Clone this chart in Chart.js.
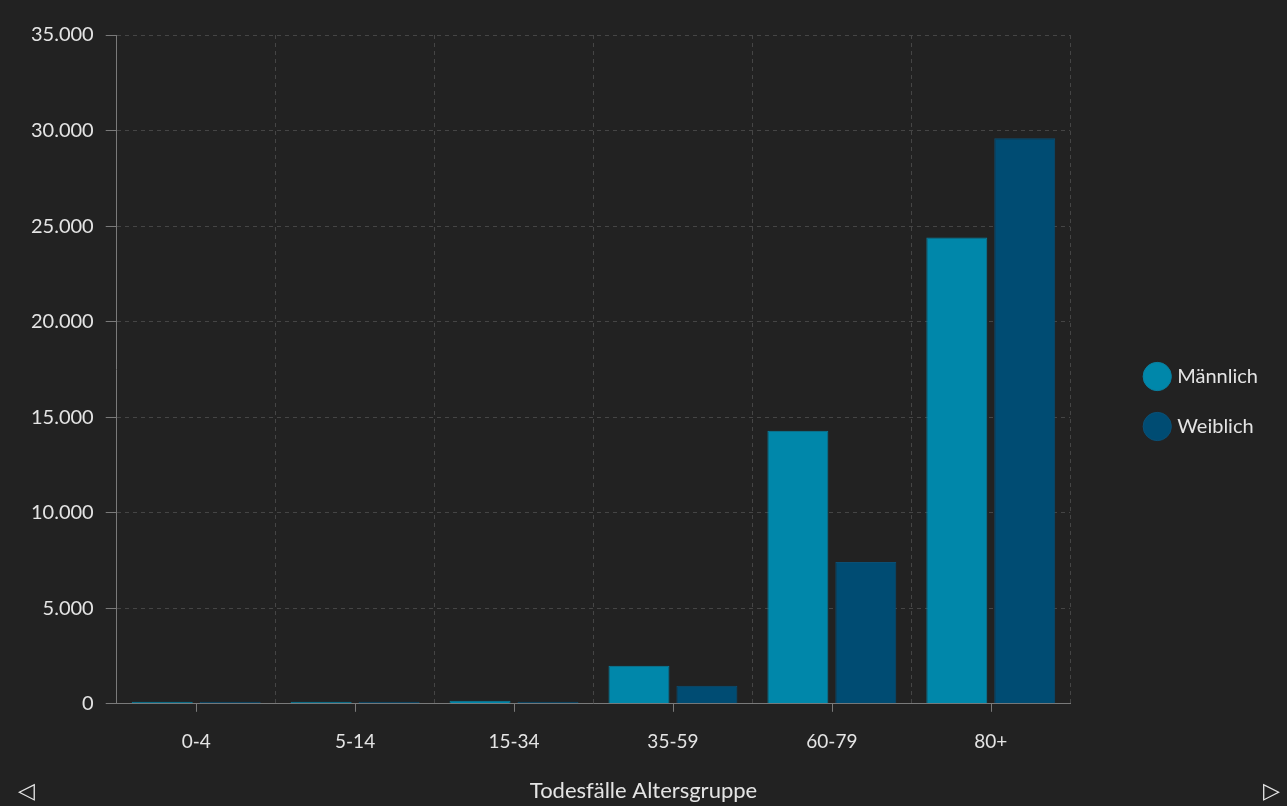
<!DOCTYPE html>
<html lang="de">
<head>
    <meta charset="UTF-8">
    <title>Todesfälle Altersgruppe</title>
    <script src="https://cdn.jsdelivr.net/npm/chart.js"></script>
    <style>
        body { margin: 0; background: #222222; font-family: Lato, sans-serif; }
        .wrap { position: relative; width: 1287px; height: 806px; background: #222222; }
        .arrow { position: absolute; top: 776px; color: #e6e6e6; font-size: 22px; line-height: 28px; }
        .arrow.left { left: 18px; }
        .arrow.right { left: 1263px; }
    </style>
</head>
<body>
<div class="wrap">
    <canvas id="chart" width="1287" height="806"></canvas>
    <span class="arrow left">◁</span>
    <span class="arrow right">▷</span>
</div>
<script>
const altersgruppen = ['0-4', '5-14', '15-34', '35-59', '60-79', '80+'];
const maennlich = [15, 20, 160, 1990, 14290, 24400];
const weiblich = [10, 15, 70, 940, 7420, 29600];
const yTicks = [0, 5000, 10000, 15000, 20000, 25000, 30000, 35000];

const textColor = '#e4e4e4';
const gridColor = '#454545';
const axisColor = '#7a7a7a';

function deFormat(v) {
    return String(v).replace(/\B(?=(\d{3})+(?!\d))/g, '.');
}

// kleine Striche unter der x-Achse in der Mitte jeder Gruppe
const centerTicks = {
    id: 'centerTicks',
    afterLayout(chart) {
        // Legende etwas höher setzen (Titel unten nicht mitzählen)
        chart.legend.bottom -= 36;
    },
    afterDraw(chart) {
        const x = chart.scales.x;
        const c = chart.ctx;
        c.save();
        c.strokeStyle = axisColor;
        c.lineWidth = 1;
        altersgruppen.forEach((g, i) => {
            const px = Math.round(x.getPixelForValue(i)) + 0.5;
            c.beginPath();
            c.moveTo(px, x.top);
            c.lineTo(px, x.top + 8);
            c.stroke();
        });
        c.restore();
    }
};

new Chart(document.getElementById('chart'), {
    type: 'bar',
    data: {
        labels: altersgruppen,
        datasets: [
            { label: 'Männlich', data: maennlich, backgroundColor: '#0087aa', borderColor: '#0a7f9f', borderWidth: 1 },
            { label: 'Weiblich', data: weiblich, backgroundColor: '#004c73', borderColor: '#0b4f74', borderWidth: 1 }
        ]
    },
    options: {
        responsive: false,
        animation: false,
        categoryPercentage: 0.855,
        barPercentage: 0.897,
        minBarLength: 2,
        layout: { padding: { top: 35, left: 19, right: 19, bottom: 2 } },
        scales: {
            x: {
                grid: { color: gridColor, tickColor: 'transparent', tickLength: 8, offset: true },
                border: { color: axisColor, dash: [4, 4] },
                ticks: { color: textColor, font: { family: 'Lato', size: 19 }, padding: 19 }
            },
            y: {
                min: 0,
                max: 35000,
                afterBuildTicks(s) { s.ticks = yTicks.map(v => ({ value: v })); },
                grid: { color: gridColor, tickColor: axisColor, tickBorderDash: [], tickLength: 11 },
                border: { color: axisColor, dash: [4, 4] },
                ticks: { color: textColor, font: { family: 'Lato', size: 20 }, padding: 12, callback: v => deFormat(v) }
            },
            rand: {
                position: 'right',
                type: 'linear',
                grid: { display: false, drawOnChartArea: false },
                border: { display: false },
                ticks: { display: false },
                afterFit(s) { s.width = 47; }
            }
        },
        plugins: {
            legend: {
                position: 'right',
                labels: {
                    color: textColor,
                    font: { family: 'Lato', size: 20 },
                    usePointStyle: true,
                    pointStyle: 'circle',
                    padding: 30
                }
            },
            title: {
                display: true,
                position: 'bottom',
                text: 'Todesfälle Altersgruppe',
                color: textColor,
                font: { family: 'Lato', size: 22, weight: 'normal' },
                padding: { top: 5, bottom: 0 }
            },
            tooltip: { enabled: false }
        }
    },
    plugins: [centerTicks]
});
</script>
</body>
</html>
